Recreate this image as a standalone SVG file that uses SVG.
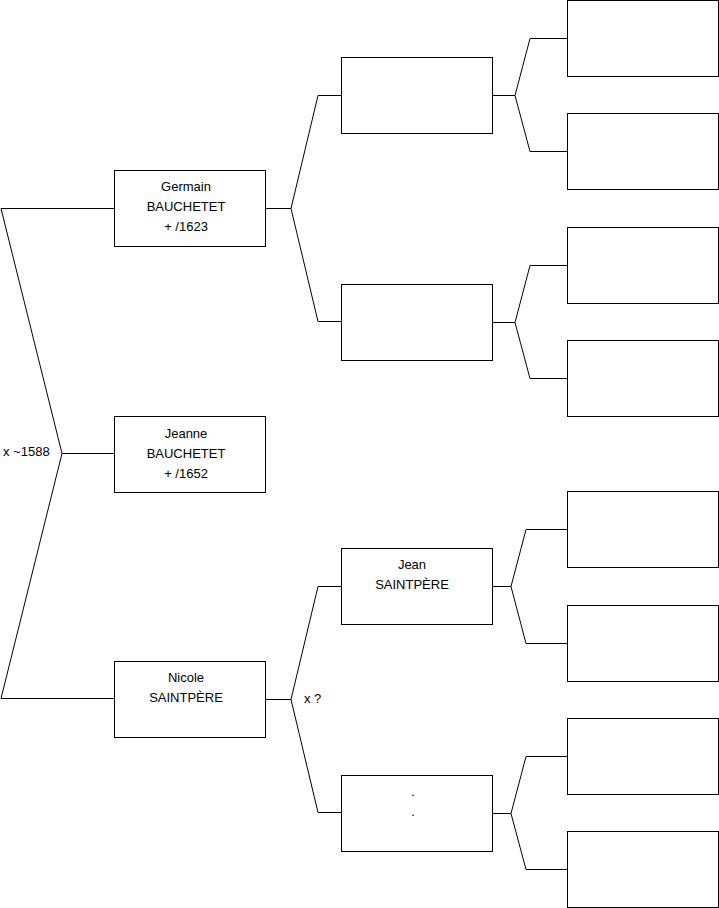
<svg xmlns="http://www.w3.org/2000/svg" width="719" height="908" viewBox="0 0 719 908">
<style>
.box{fill:#fff;stroke:#000;stroke-width:1}
.ln{fill:none;stroke:#000;stroke-width:1}
text{font-family:"Liberation Sans",Arial,sans-serif;font-size:13px;fill:#000}
.c{text-anchor:middle}
</style>
<rect width="719" height="908" fill="#fff"/>
<g id="connectors">
<path class="ln" d="M114,208.5 H1 L62,453.5 L1,698.5 H114 M62,453.5 H114"/>
<path class="ln" d="M265,208.5 H291 L318,95.5 H341 M291,208.5 L318,321.5 H341"/>
<path class="ln" d="M265,699.5 H291 L318,586.5 H341 M291,699.5 L318,812.5 H341"/>
<path class="ln" d="M492,95.5 H515 L530,38.5 H567 M515,95.5 L530,151.5 H567"/>
<path class="ln" d="M492,322.5 H515 L530,265.5 H567 M515,322.5 L530,378.5 H567"/>
<path class="ln" d="M492,586.5 H511 L526,529.5 H567 M511,586.5 L526,643.5 H567"/>
<path class="ln" d="M492,813.5 H511 L526,756.5 H567 M511,813.5 L526,869.5 H567"/>
<text x="3" y="456">x ~1588</text>
<text x="304" y="703">x ?</text>
</g>
<g id="germain"><rect class="box" x="114.5" y="170.5" width="151" height="76"/>
<text class="c" x="186" y="191">Germain</text><text class="c" x="186" y="211">BAUCHETET</text><text class="c" x="186" y="231">+ /1623</text></g>
<g id="jeanne"><rect class="box" x="114.5" y="416.5" width="151" height="76"/>
<text class="c" x="186" y="437.5">Jeanne</text><text class="c" x="186" y="457.5">BAUCHETET</text><text class="c" x="186" y="477.5">+ /1652</text></g>
<g id="nicole"><rect class="box" x="114.5" y="661.5" width="151" height="76"/>
<text class="c" x="186" y="682">Nicole</text><text class="c" x="186" y="702">SAINTPÈRE</text></g>
<g id="p1"><rect class="box" x="341.5" y="57.5" width="151" height="76"/></g>
<g id="p2"><rect class="box" x="341.5" y="284.5" width="151" height="76"/></g>
<g id="jean"><rect class="box" x="341.5" y="548.5" width="151" height="76"/>
<text class="c" x="412" y="569">Jean</text><text class="c" x="412" y="589">SAINTPÈRE</text></g>
<g id="p4"><rect class="box" x="341.5" y="775.5" width="151" height="76"/>
<text class="c" x="413" y="796">.</text><text class="c" x="413" y="816">.</text></g>
<g id="g1"><rect class="box" x="567.5" y="0.5" width="151" height="76"/></g>
<g id="g2"><rect class="box" x="567.5" y="113.5" width="151" height="76"/></g>
<g id="g3"><rect class="box" x="567.5" y="227.5" width="151" height="76"/></g>
<g id="g4"><rect class="box" x="567.5" y="340.5" width="151" height="76"/></g>
<g id="g5"><rect class="box" x="567.5" y="491.5" width="151" height="76"/></g>
<g id="g6"><rect class="box" x="567.5" y="605.5" width="151" height="76"/></g>
<g id="g7"><rect class="box" x="567.5" y="718.5" width="151" height="76"/></g>
<g id="g8"><rect class="box" x="567.5" y="831.5" width="151" height="76"/></g>
</svg>
